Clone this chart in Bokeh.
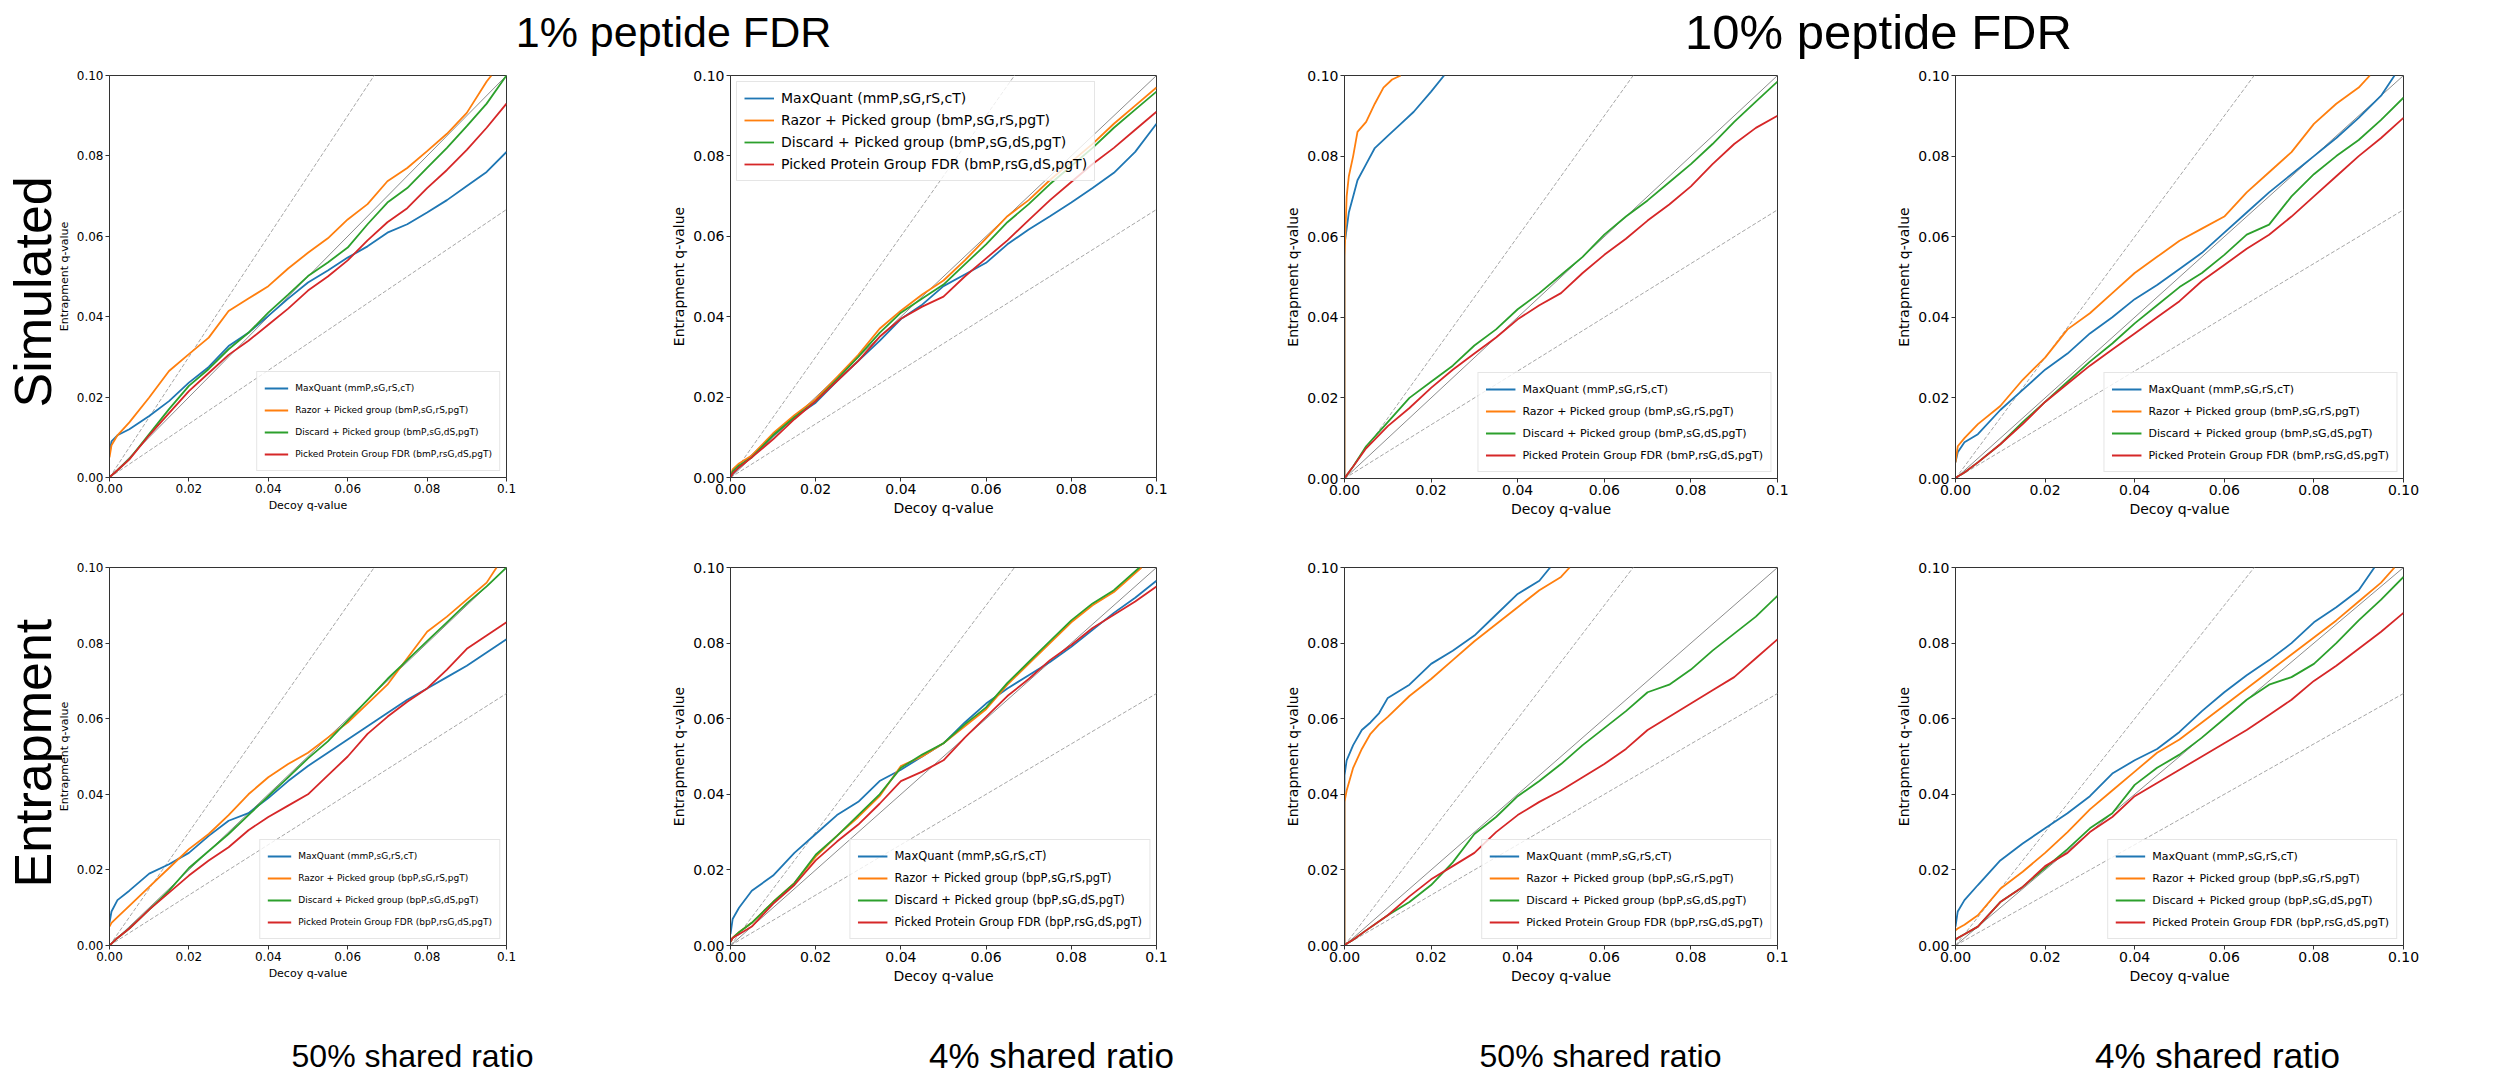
from bokeh.plotting import figure
from bokeh.models import Range1d, FixedTicker, NumeralTickFormatter, Legend, LegendItem, Title
from bokeh.layouts import column, row
from bokeh.embed import file_html
from bokeh.resources import INLINE
from bokeh.core.properties import value

# ---------------- data ----------------
TICKS = [0.0, 0.02, 0.04, 0.06, 0.08, 0.1]
GRID = [0, 0.0005, 0.002, 0.005, 0.01, 0.015, 0.02, 0.025, 0.03, 0.035, 0.04, 0.045,
        0.05, 0.055, 0.06, 0.065, 0.07, 0.075, 0.08, 0.085, 0.09, 0.095, 0.1]
REF_X = [0.0, 0.1]
REF_SLOPES = [1.0, 1.5, 1 / 1.5]

COL_TITLES = ["1% peptide FDR", "10% peptide FDR"]
ROW_TITLES = ["Simulated", "Entrapment"]
BOTTOM_TITLES = ["50% shared ratio", "4% shared ratio", "50% shared ratio", "4% shared ratio"]
LABELS_SIM = ["MaxQuant (mmP,sG,rS,cT)", "Razor + Picked group (bmP,sG,rS,pgT)",
              "Discard + Picked group (bmP,sG,dS,pgT)", "Picked Protein Group FDR (bmP,rsG,dS,pgT)"]
LABELS_ENT = ["MaxQuant (mmP,sG,rS,cT)", "Razor + Picked group (bpP,sG,rS,pgT)",
              "Discard + Picked group (bpP,sG,dS,pgT)", "Picked Protein Group FDR (bpP,rsG,dS,pgT)"]
COLORS = ["#1f77b4", "#ff7f0e", "#2ca02c", "#d62728"]

# Simulated, 50% shared, 1% FDR
A_mq = [0.006, 0.009, 0.0105, 0.012, 0.0153, 0.019, 0.0236, 0.0275, 0.0327, 0.036, 0.0402, 0.0445,
        0.0485, 0.0515, 0.0547, 0.0575, 0.0609, 0.063, 0.0659, 0.069, 0.0725, 0.076, 0.081]
A_razor = [0.005, 0.008, 0.0105, 0.0137, 0.0199, 0.0265, 0.0307, 0.0348, 0.0414, 0.0445, 0.0476, 0.052,
           0.0559, 0.0595, 0.0642, 0.068, 0.0737, 0.077, 0.0812, 0.0855, 0.0907, 0.0985]
A_razor_end = 0.0962
A_discard = [0, 0.0005, 0.0018, 0.0046, 0.0108, 0.017, 0.0228, 0.027, 0.0319, 0.036, 0.041, 0.0455,
             0.0501, 0.0535, 0.0572, 0.063, 0.0684, 0.072, 0.077, 0.082, 0.0874, 0.093, 0.1]
A_picked = [0, 0.0005, 0.0018, 0.0045, 0.0105, 0.016, 0.0215, 0.026, 0.0305, 0.034, 0.038, 0.042,
            0.0465, 0.05, 0.054, 0.059, 0.0635, 0.067, 0.072, 0.0765, 0.0815, 0.087, 0.093]

# Simulated, 4% shared, 1% FDR
B_mq = [0, 0.001, 0.0025, 0.0055, 0.0104, 0.015, 0.0186, 0.024, 0.029, 0.034, 0.0394, 0.043,
        0.0476, 0.0505, 0.0534, 0.058, 0.0617, 0.065, 0.0684, 0.072, 0.0758, 0.081, 0.088]
B_razor = [0, 0.002, 0.0035, 0.0055, 0.011, 0.0155, 0.0195, 0.025, 0.0305, 0.037, 0.0415, 0.0455,
           0.049, 0.054, 0.0595, 0.065, 0.069, 0.074, 0.0785, 0.083, 0.088, 0.0925, 0.097]
B_discard = [0, 0.0015, 0.003, 0.005, 0.0105, 0.015, 0.019, 0.0245, 0.030, 0.036, 0.041, 0.0445,
             0.048, 0.053, 0.058, 0.0635, 0.068, 0.073, 0.0775, 0.082, 0.087, 0.0915, 0.096]
B_picked = [0, 0.001, 0.0025, 0.005, 0.0095, 0.0145, 0.019, 0.024, 0.029, 0.035, 0.0395, 0.0425,
            0.045, 0.05, 0.0545, 0.059, 0.064, 0.069, 0.0735, 0.078, 0.082, 0.0865, 0.091]

# Simulated, 50% shared, 10% FDR
C_mq_x = [0, 0, 0.0005, 0.001, 0.002, 0.003, 0.005, 0.007, 0.01, 0.013, 0.016, 0.02, 0.023]
C_mq_y = [0, 0.058, 0.062, 0.066, 0.070, 0.074, 0.078, 0.082, 0.085, 0.088, 0.091, 0.096, 0.1]
C_razor_x = [0, 0, 0.0005, 0.001, 0.002, 0.003, 0.005, 0.007, 0.009, 0.011, 0.013]
C_razor_y = [0, 0.055, 0.07, 0.075, 0.08, 0.086, 0.0885, 0.093, 0.097, 0.099, 0.1]
C_discard = [0, 0.0008, 0.003, 0.008, 0.014, 0.020, 0.024, 0.028, 0.033, 0.037, 0.042, 0.046,
             0.0505, 0.055, 0.0605, 0.065, 0.069, 0.0735, 0.078, 0.083, 0.0885, 0.0935, 0.0985]
C_picked = [0, 0.0008, 0.003, 0.0075, 0.013, 0.0175, 0.0225, 0.027, 0.031, 0.035, 0.0395, 0.043,
            0.046, 0.051, 0.0555, 0.0595, 0.064, 0.068, 0.0725, 0.078, 0.083, 0.087, 0.090]

# Simulated, 4% shared, 10% FDR
D_mq = [0.004, 0.0065, 0.009, 0.011, 0.017, 0.022, 0.027, 0.031, 0.036, 0.040, 0.0445, 0.048,
        0.052, 0.056, 0.061, 0.066, 0.071, 0.0755, 0.080, 0.0845, 0.0895, 0.095]
D_mq_end = 0.098
D_razor = [0.004, 0.008, 0.010, 0.0135, 0.018, 0.0245, 0.030, 0.037, 0.041, 0.046, 0.051, 0.055,
           0.059, 0.062, 0.065, 0.071, 0.076, 0.081, 0.088, 0.093, 0.097]
D_razor_end = 0.0925
D_discard = [0, 0.0005, 0.0015, 0.004, 0.0085, 0.014, 0.019, 0.024, 0.029, 0.0335, 0.0385, 0.043,
             0.0475, 0.051, 0.0555, 0.0605, 0.063, 0.07, 0.0755, 0.08, 0.084, 0.089, 0.0945]
D_picked = [0, 0.0005, 0.0015, 0.004, 0.0085, 0.0135, 0.019, 0.0235, 0.028, 0.032, 0.036, 0.040,
            0.044, 0.049, 0.053, 0.057, 0.0605, 0.065, 0.070, 0.075, 0.080, 0.0845, 0.0895]

# Entrapment, 50% shared, 1% FDR
E_mq = [0.006, 0.009, 0.012, 0.0145, 0.019, 0.0215, 0.0245, 0.029, 0.033, 0.035, 0.039, 0.0435,
        0.0475, 0.051, 0.0545, 0.058, 0.0615, 0.065, 0.068, 0.071, 0.074, 0.0775, 0.081]
E_razor = [0.005, 0.006, 0.0075, 0.0105, 0.0155, 0.0205, 0.0255, 0.0295, 0.0345, 0.04, 0.0445, 0.048,
           0.051, 0.055, 0.059, 0.064, 0.069, 0.076, 0.083, 0.087, 0.0915, 0.096]
E_razor_end = 0.0975
E_discard = [0, 0.0005, 0.002, 0.0045, 0.0095, 0.0145, 0.0205, 0.025, 0.0295, 0.0345, 0.0395, 0.0445,
             0.0495, 0.054, 0.0595, 0.065, 0.0705, 0.0755, 0.0805, 0.0855, 0.0905, 0.095, 0.1]
E_picked = [0, 0.0005, 0.002, 0.0045, 0.0095, 0.014, 0.0185, 0.0225, 0.026, 0.0305, 0.034, 0.037,
            0.040, 0.045, 0.050, 0.056, 0.0605, 0.0645, 0.068, 0.073, 0.0785, 0.082, 0.0855]

# Entrapment, 4% shared, 1% FDR
F_mq = [0.003, 0.007, 0.01, 0.0145, 0.0185, 0.0245, 0.0295, 0.0345, 0.038, 0.0435, 0.0465, 0.050,
        0.0535, 0.059, 0.064, 0.068, 0.0715, 0.075, 0.079, 0.0835, 0.088, 0.092, 0.0965]
F_razor = [0.001, 0.002, 0.0035, 0.006, 0.0115, 0.0165, 0.0235, 0.029, 0.034, 0.0395, 0.0475, 0.050,
           0.0535, 0.058, 0.0625, 0.069, 0.0745, 0.080, 0.0855, 0.090, 0.0935]
F_razor_end = 0.0965
F_discard = [0.001, 0.002, 0.0035, 0.006, 0.0115, 0.0165, 0.024, 0.029, 0.0345, 0.040, 0.047, 0.0505,
             0.0535, 0.0585, 0.063, 0.0695, 0.075, 0.0805, 0.086, 0.0905, 0.094]
F_discard_end = 0.096
F_picked = [0.001, 0.002, 0.003, 0.005, 0.011, 0.016, 0.0225, 0.0275, 0.032, 0.0375, 0.0435, 0.046,
            0.049, 0.055, 0.0605, 0.066, 0.0705, 0.0755, 0.0795, 0.084, 0.0875, 0.091, 0.095]

# Entrapment, 50% shared, 10% FDR
G_mq_x = [0, 0, 0.0005, 0.002, 0.004, 0.006, 0.008, 0.01, 0.015, 0.02, 0.025, 0.03, 0.035, 0.04, 0.045, 0.0475]
G_mq_y = [0, 0.045, 0.049, 0.053, 0.057, 0.059, 0.0615, 0.0655, 0.069, 0.0745, 0.078, 0.082, 0.0875, 0.093, 0.0965, 0.1]
G_razor_x = [0, 0, 0.0005, 0.002, 0.004, 0.006, 0.008, 0.01, 0.015, 0.02, 0.025, 0.03, 0.035, 0.04, 0.045, 0.05, 0.052]
G_razor_y = [0, 0.038, 0.041, 0.047, 0.052, 0.056, 0.0585, 0.0605, 0.066, 0.0705, 0.0755, 0.0805, 0.085, 0.0895, 0.094, 0.0975, 0.1]
G_discard = [0, 0.0005, 0.0015, 0.004, 0.008, 0.0115, 0.016, 0.022, 0.0295, 0.034, 0.0395, 0.0435,
             0.048, 0.053, 0.0575, 0.062, 0.067, 0.069, 0.073, 0.078, 0.0825, 0.087, 0.0925]
G_picked = [0, 0.0005, 0.0015, 0.004, 0.008, 0.013, 0.0175, 0.021, 0.0245, 0.030, 0.0345, 0.038,
            0.041, 0.0445, 0.048, 0.052, 0.057, 0.0605, 0.064, 0.0675, 0.071, 0.076, 0.081]

# Entrapment, 4% shared, 10% FDR
H_mq = [0.005, 0.009, 0.012, 0.016, 0.0225, 0.027, 0.031, 0.035, 0.0395, 0.0455, 0.049, 0.052,
        0.0565, 0.062, 0.067, 0.0715, 0.0755, 0.080, 0.0855, 0.0895, 0.094]
H_mq_end = 0.0935
H_razor = [0.004, 0.0045, 0.0055, 0.008, 0.015, 0.0195, 0.0245, 0.030, 0.036, 0.041, 0.046, 0.051,
           0.0545, 0.059, 0.0635, 0.068, 0.0725, 0.077, 0.0815, 0.086, 0.091, 0.096]
H_razor_end = 0.098
H_discard = [0.0015, 0.002, 0.003, 0.005, 0.0115, 0.0155, 0.0205, 0.0255, 0.031, 0.035, 0.0425, 0.047,
             0.0505, 0.055, 0.060, 0.065, 0.069, 0.071, 0.0745, 0.08, 0.086, 0.0915, 0.0975]
H_picked = [0.0015, 0.002, 0.003, 0.005, 0.0115, 0.0155, 0.021, 0.0245, 0.030, 0.034, 0.0395, 0.043,
            0.0465, 0.050, 0.0535, 0.057, 0.061, 0.065, 0.070, 0.074, 0.0785, 0.083, 0.088]


def on_grid(ys, end=None):
    xs = GRID[:len(ys)]
    ys = list(ys)
    if end is not None:
        xs = xs + [end]
        ys = ys + [0.1]
    return xs, ys


PANEL_CURVES = [
    [on_grid(A_mq), on_grid(A_razor, A_razor_end), on_grid(A_discard), on_grid(A_picked)],
    [on_grid(B_mq), on_grid(B_razor), on_grid(B_discard), on_grid(B_picked)],
    [(C_mq_x, C_mq_y), (C_razor_x, C_razor_y), on_grid(C_discard), on_grid(C_picked)],
    [on_grid(D_mq, D_mq_end), on_grid(D_razor, D_razor_end), on_grid(D_discard), on_grid(D_picked)],
    [on_grid(E_mq), on_grid(E_razor, E_razor_end), on_grid(E_discard), on_grid(E_picked)],
    [on_grid(F_mq), on_grid(F_razor, F_razor_end), on_grid(F_discard, F_discard_end), on_grid(F_picked)],
    [(G_mq_x, G_mq_y), (G_razor_x, G_razor_y), on_grid(G_discard), on_grid(G_picked)],
    [on_grid(H_mq, H_mq_end), on_grid(H_razor, H_razor_end), on_grid(H_discard), on_grid(H_picked)],
]

# ---------------- layout / style ----------------
TITLE_H = 60
BOT_H = 77
# per column: left border, frame width, right border
COL_GEOM = [(109, 397, 20), (204, 426, 20), (168, 433, 20), (158, 448, 30)]
# per panel: top border, frame height, bottom border
ROW_GEOM_TOP = [(15, 402, 51), (15, 402, 51), (13, 403, 52), (13, 403, 52)]
ROW_GEOM_BOT = [(39, 378, 52), (39, 378, 52), (36, 378, 55), (36, 378, 55)]
ROW_TITLE_OFFSET = [70, 58]
TICK_FS = ["12px", "14px", "14px", "14px"]
AXLAB_FS = ["11px", "14px", "14px", "14px"]
LEG_FS = ["9px", "14px", "11px", "11px", "9px", "11.5px", "11px", "11px"]
LEG_GLYPH_W = [24, 30, 30, 30, 24, 30, 30, 30]
LAST_X_LABEL = ["0.1", "0.1", "0.1", "0.10"]
BOTTOM_FS = ["32px", "35px", "32px", "35px"]

DL = "DejaVu Sans"
TITLE_FONT = "Liberation Sans"


def make_panel(idx, col, geom, labels, legend_loc):
    lb, fw, rb = COL_GEOM[col]
    tb, fh, bb = geom
    p = figure(frame_width=fw, frame_height=fh, x_range=Range1d(0, 0.1), y_range=Range1d(0, 0.1),
               output_backend="svg", toolbar_location=None,
               min_border_left=lb, min_border_right=rb, min_border_top=tb, min_border_bottom=bb)
    p.grid.visible = False
    p.outline_line_color = "#333333"
    p.outline_line_width = 1
    p.background_fill_color = "white"
    p.border_fill_color = "white"
    for ax in (p.xaxis[0], p.yaxis[0]):
        ax.ticker = FixedTicker(ticks=TICKS)
        ax.formatter = NumeralTickFormatter(format="0.00")
        ax.major_tick_out = 4
        ax.major_tick_in = 0
        ax.minor_tick_line_color = None
        ax.axis_line_color = "#333333"
        ax.major_tick_line_color = "#333333"
        ax.major_label_text_font = DL
        ax.major_label_text_font_size = TICK_FS[col]
        ax.major_label_text_color = "black"
        ax.major_label_standoff = 2
        ax.axis_label_text_font = DL
        ax.axis_label_text_font_size = AXLAB_FS[col]
        ax.axis_label_text_font_style = "normal"
        ax.axis_label_text_color = "black"
        ax.axis_label_standoff = 3
    p.xaxis.axis_label = "Decoy q-value"
    p.yaxis.axis_label = "Entrapment q-value"
    p.xaxis.major_label_overrides = {0.1: LAST_X_LABEL[col]}

    for k, s in enumerate(REF_SLOPES):
        p.line(REF_X, [s * x for x in REF_X], line_color="#8c8c8c" if k == 0 else "#a6a6a6",
               line_width=1, line_dash="solid" if k == 0 else "4 2")

    items = []
    for (xs, ys), c, lab in zip(PANEL_CURVES[idx], COLORS, labels):
        r = p.line(xs, ys, line_color=c, line_width=1.8)
        items.append(LegendItem(label=lab, renderers=[r]))
    leg = Legend(items=items, location=legend_loc, label_text_font=DL,
                 label_text_font_size=LEG_FS[idx], label_text_color="black",
                 glyph_width=LEG_GLYPH_W[idx], glyph_height=18, label_height=18, spacing=4,
                 label_standoff=7, padding=7, margin=6,
                 border_line_color="#cccccc", border_line_width=1,
                 background_fill_color="white", background_fill_alpha=0.8)
    p.add_layout(leg)

    if col == 0:
        r_i = 0 if idx < 4 else 1
        p.add_layout(Title(text=ROW_TITLES[r_i], text_font=TITLE_FONT, text_font_size="52px",
                           text_font_style="normal", text_color="black", align="left",
                           offset=ROW_TITLE_OFFSET[r_i], standoff=-14), "left")
    return p


top_figs = []
bot_figs = []
for c in range(4):
    top_figs.append(make_panel(c, c, ROW_GEOM_TOP[c], LABELS_SIM, "top_left" if c == 1 else "bottom_right"))
    bot_figs.append(make_panel(4 + c, c, ROW_GEOM_BOT[c], LABELS_ENT, "bottom_right"))

TOTAL_W = sum(lb + fw + rb for lb, fw, rb in COL_GEOM)
ROWS_H = (15 + 402 + 51) + (39 + 378 + 52)


def text_fig(w, h):
    p = figure(width=w, height=h, x_range=Range1d(0, w), y_range=Range1d(0, h),
               output_backend="svg", toolbar_location=None, min_border=0,
               x_axis_location=None, y_axis_location=None)
    p.grid.visible = False
    p.outline_line_color = None
    p.background_fill_color = "white"
    p.border_fill_color = "white"
    return p


# column titles (x: page px, y measured up from the strip's bottom)
tfig = text_fig(TOTAL_W, TITLE_H)
tfig.text(x=[673], y=[TITLE_H - 31], text=COL_TITLES[:1],
          text_font=value(TITLE_FONT), text_font_size="43px", text_align="center",
          text_baseline="middle", text_color="black")
tfig.text(x=[1878], y=[TITLE_H - 31], text=COL_TITLES[1:],
          text_font=value(TITLE_FONT), text_font_size="49px", text_align="center",
          text_baseline="middle", text_color="black")

# bottom titles
BOT_TOP = TITLE_H + ROWS_H
bfig = text_fig(TOTAL_W, BOT_H)
for xc, txt, fs in zip([412, 1051, 1600, 2217], BOTTOM_TITLES, BOTTOM_FS):
    bfig.text(x=[xc], y=[BOT_TOP + BOT_H - 1055], text=[txt],
              text_font=value(TITLE_FONT), text_font_size=fs, text_align="center",
              text_baseline="middle", text_color="black")

layout = column(tfig, row(*top_figs), row(*bot_figs), bfig)

open("out.html", "w").write(file_html(layout, INLINE))
